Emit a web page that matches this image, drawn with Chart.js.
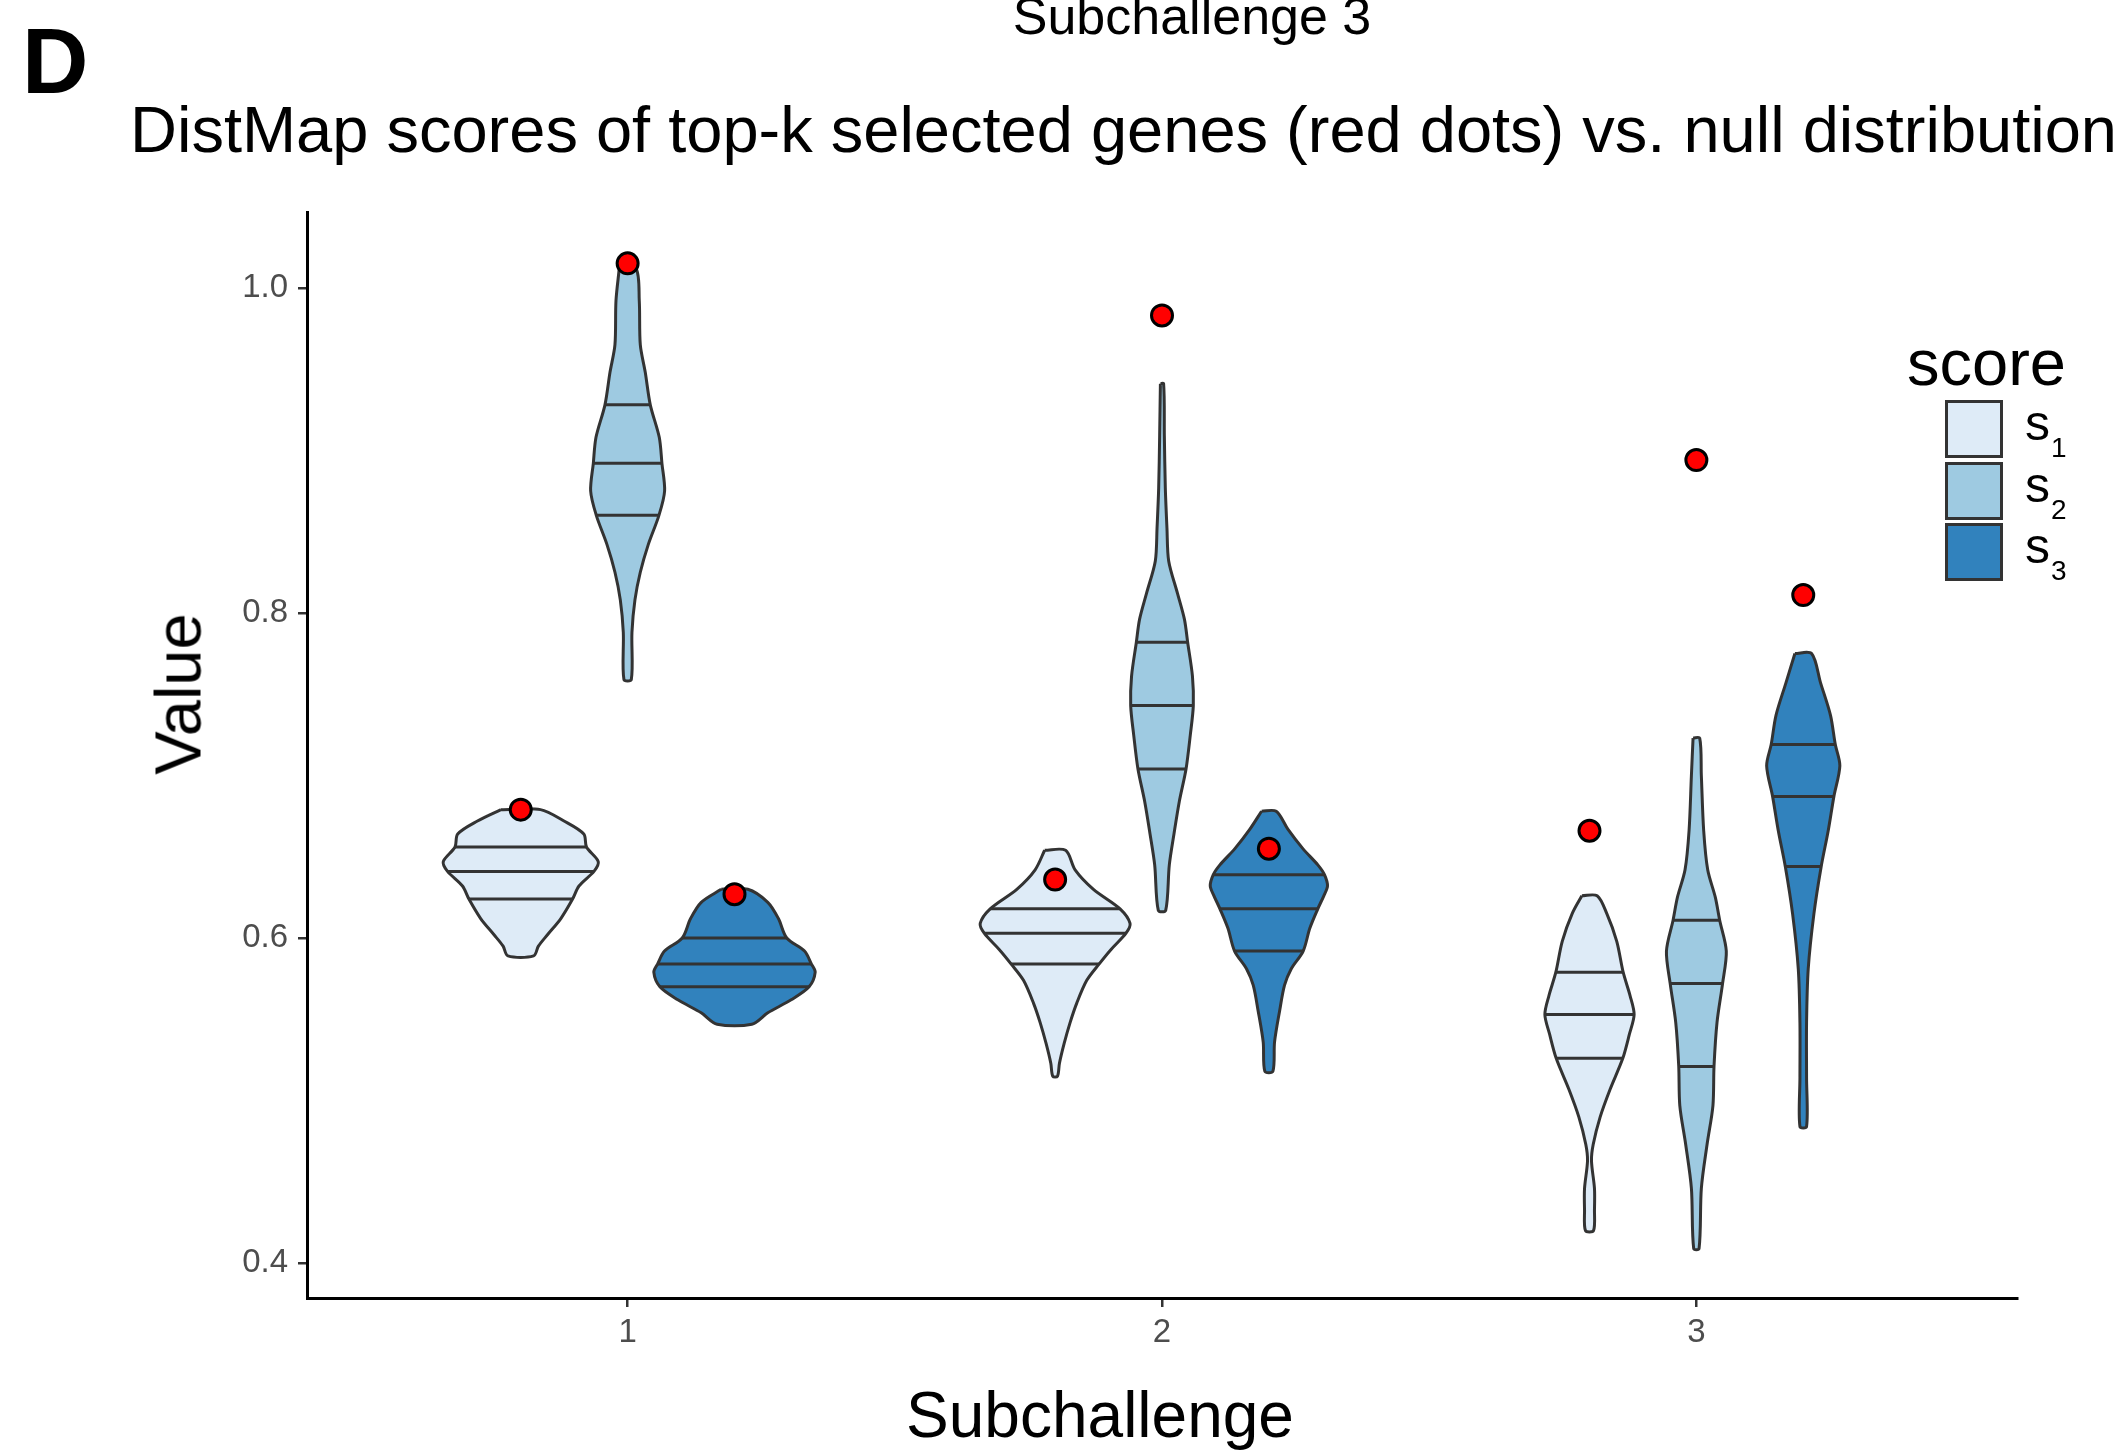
<!DOCTYPE html>
<html>
<head>
<meta charset="utf-8">
<title>DistMap scores vs. null distribution</title>
<script src="https://cdn.jsdelivr.net/npm/chart.js@4.4.1/dist/chart.umd.min.js"></script>
<style>
  body { margin: 0; background: #fff; }
  #wrap { position: relative; width: 2114px; height: 1454px; overflow: hidden;
          font-family: "Liberation Sans", Arial, Helvetica, sans-serif; color: #000; }
  #wrap canvas { position: absolute; left: 0; top: 0; }
  .txt { position: absolute; white-space: nowrap; line-height: 1; }
  .key { position: absolute; box-sizing: border-box; width: 58px; height: 58px; border: 3px solid #333; }
  .keylab { position: absolute; white-space: nowrap; line-height: 1; font-size: 50px; }
  .keylab sub { font-size: 28px; position: relative; top: 17px; vertical-align: baseline; margin-left: 1px; }
</style>
</head>
<body>
<div id="wrap">
  <canvas id="chart" width="2114" height="1454"></canvas>
  <div class="txt" style="left:22px; top:15px; font-size:92px; font-weight:bold;">D</div>
  <div class="txt" style="left:1192px; top:-10px; font-size:52px; transform:translateX(-50%);">Subchallenge 3</div>
  <div class="txt" style="left:130px; top:97px; font-size:65px;">DistMap scores of top-k selected genes (red dots) vs. null distribution</div>
  <div class="txt" style="left:178px; top:694px; font-size:65px; transform:translate(-50%,-50%) rotate(-90deg);">Value</div>
  <div class="txt" style="left:1100px; top:1383px; font-size:64px; transform:translateX(-50%);">Subchallenge</div>
  <div id="legend"></div>
</div>
<script>
const subchallenges = ["1", "2", "3"];
const scoreNames = ["1", "2", "3"]; // s1, s2, s3
const scoreColors = ["#DEEBF7", "#9ECAE1", "#3182BD"];
const yTicks = [0.4, 0.6, 0.8, 1.0];

// null distributions: values from top to bottom and half width of the density there
const g1s1Value = [0.679, 0.672, 0.664, 0.656, 0.647, 0.641, 0.632, 0.624, 0.612, 0.602, 0.595, 0.589];
const g1s1Width = [0.037, 0.081, 0.118, 0.123, 0.145, 0.137, 0.109, 0.097, 0.075, 0.050, 0.033, 0.024];
const g1s1Quant = [0.656, 0.641, 0.624];

const g1s2Value = [1.012, 0.992, 0.965, 0.948, 0.928, 0.908, 0.892, 0.875, 0.860, 0.842, 0.825, 0.808, 0.788, 0.759];
const g1s2Width = [0.0156, 0.0218, 0.0237, 0.033, 0.0424, 0.0592, 0.0642, 0.0692, 0.0586, 0.0386, 0.0237, 0.0137, 0.0081, 0.0069];
const g1s2Quant = [0.928, 0.892, 0.860];

const g1s3Value = [0.630, 0.622, 0.612, 0.600, 0.592, 0.584, 0.579, 0.570, 0.562, 0.554, 0.547];
const g1s3Width = [0.0249, 0.0623, 0.0822, 0.0978, 0.131, 0.144, 0.151, 0.1396, 0.106, 0.0623, 0.0324];
const g1s3Quant = [0.600, 0.584, 0.570];

const g2s1Value = [0.654, 0.642, 0.630, 0.618, 0.609, 0.603, 0.593, 0.584, 0.574, 0.560, 0.548, 0.535, 0.523, 0.515];
const g2s1Width = [0.0196, 0.0374, 0.0717, 0.1215, 0.1402, 0.1327, 0.1047, 0.0822, 0.0592, 0.0405, 0.028, 0.0168, 0.0081, 0.0044];
const g2s1Quant = [0.618, 0.603, 0.584];

const g2s2Value = [0.941, 0.909, 0.877, 0.852, 0.832, 0.812, 0.796, 0.782, 0.761, 0.743, 0.725, 0.704, 0.684, 0.664, 0.645, 0.617];
const g2s2Width = [0.003, 0.0044, 0.0062, 0.0093, 0.0125, 0.029, 0.042, 0.048, 0.057, 0.0586, 0.053, 0.045, 0.0324, 0.0224, 0.0137, 0.0069];
const g2s2Quant = [0.782, 0.743, 0.704];

const g2s3Value = [0.678, 0.667, 0.655, 0.645, 0.639, 0.632, 0.626, 0.618, 0.606, 0.592, 0.581, 0.571, 0.555, 0.536, 0.518];
const g2s3Width = [0.0137, 0.0355, 0.0636, 0.0916, 0.104, 0.1097, 0.1028, 0.0916, 0.0766, 0.0642, 0.0417, 0.0293, 0.02, 0.0106, 0.0075];
const g2s3Quant = [0.639, 0.618, 0.592];

const g3s1Value = [0.626, 0.615, 0.598, 0.579, 0.5645, 0.553, 0.541, 0.526, 0.507, 0.490, 0.473, 0.463, 0.446, 0.433, 0.420];
const g3s1Width = [0.0143, 0.0324, 0.051, 0.063, 0.076, 0.0835, 0.0748, 0.0623, 0.0386, 0.02, 0.0069, 0.0037, 0.0093, 0.0093, 0.0075];
const g3s1Quant = [0.579, 0.553, 0.526];

const g3s2Value = [0.723, 0.700, 0.666, 0.642, 0.625, 0.611, 0.592, 0.572, 0.548, 0.521, 0.497, 0.473, 0.446, 0.409];
const g3s2Width = [0.0062, 0.0093, 0.0137, 0.0212, 0.0355, 0.0436, 0.056, 0.049, 0.0386, 0.033, 0.031, 0.02, 0.0093, 0.005];
const g3s2Quant = [0.611, 0.572, 0.521];

const g3s3Value = [0.775, 0.757, 0.737, 0.719, 0.706, 0.687, 0.666, 0.644, 0.615, 0.581, 0.548, 0.514, 0.484];
const g3s3Width = [0.0156, 0.0324, 0.051, 0.06, 0.0685, 0.0573, 0.0467, 0.0336, 0.02, 0.0093, 0.0062, 0.0062, 0.0062];
const g3s3Quant = [0.719, 0.687, 0.644];

// scores of the top-k selected genes (red dots), per subchallenge
const topkS1 = [0.679, 0.636, 0.666];
const topkS2 = [1.015, 0.983, 0.894];
const topkS3 = [0.627, 0.655, 0.811];

const violins = [
  [g1s1Value, g1s1Width, g1s1Quant], [g1s2Value, g1s2Width, g1s2Quant], [g1s3Value, g1s3Width, g1s3Quant],
  [g2s1Value, g2s1Width, g2s1Quant], [g2s2Value, g2s2Width, g2s2Quant], [g2s3Value, g2s3Width, g2s3Quant],
  [g3s1Value, g3s1Width, g3s1Quant], [g3s2Value, g3s2Width, g3s2Quant], [g3s3Value, g3s3Width, g3s3Quant]
];
const topk = [topkS1, topkS2, topkS3];
const dodge = [-0.2, 0, 0.2];
const fontFamily = "'Liberation Sans', Arial, Helvetica, sans-serif";

function widthAt(values, widths, v) {
  for (let i = 0; i < values.length - 1; i++) {
    if (v <= values[i] && v >= values[i + 1]) {
      const t = (values[i] - v) / (values[i] - values[i + 1]);
      return widths[i] + t * (widths[i + 1] - widths[i]);
    }
  }
  return 0;
}

const datasets = [];

// red dots on top
const dots = [];
subchallenges.forEach((g, gi) => {
  scoreNames.forEach((s, si) => {
    dots.push({ x: gi + 1 + dodge[si], y: topk[si][gi] });
  });
});
datasets.push({
  data: dots,
  pointRadius: 10.5,
  pointBackgroundColor: "#FF0000",
  pointBorderColor: "#000000",
  pointBorderWidth: 3,
  order: 0
});

violins.forEach((v, k) => {
  const gi = Math.floor(k / 3);
  const si = k % 3;
  const cx = gi + 1 + dodge[si];
  const vals = v[0], wids = v[1], quants = v[2];
  const left = vals.map((y, i) => ({ x: cx - wids[i], y: y }));
  const right = vals.map((y, i) => ({ x: cx + wids[i], y: y })).reverse();
  const outline = left.concat(right, [left[0]]);

  // filled body
  datasets.push({
    data: outline,
    showLine: true,
    fill: "shape",
    backgroundColor: scoreColors[si],
    borderWidth: 0,
    pointRadius: 0,
    tension: 0.3,
    order: 3
  });
  // quantile lines (25%, 50%, 75%)
  quants.forEach(q => {
    const w = widthAt(vals, wids, q);
    datasets.push({
      data: [{ x: cx - w, y: q }, { x: cx + w, y: q }],
      showLine: true,
      borderColor: "#333333",
      borderWidth: 3,
      pointRadius: 0,
      tension: 0,
      order: 2
    });
  });
  // outline
  datasets.push({
    data: outline,
    showLine: true,
    fill: false,
    borderColor: "#333333",
    borderWidth: 3,
    pointRadius: 0,
    tension: 0.3,
    order: 1
  });
});

new Chart(document.getElementById("chart"), {
  type: "scatter",
  data: { datasets: datasets },
  options: {
    responsive: false,
    animation: false,
    devicePixelRatio: 1,
    events: [],
    layout: { padding: { left: 0, top: 212, right: 97, bottom: 0 } },
    plugins: {
      legend: { display: false },
      tooltip: { enabled: false }
    },
    scales: {
      x: {
        type: "linear",
        min: 0.4,
        max: 3.6,
        afterBuildTicks: (scale) => { scale.ticks = subchallenges.map((c, i) => ({ value: i + 1 })); },
        afterFit: (scale) => { scale.height = 156; },
        ticks: {
          callback: (value) => subchallenges[value - 1],
          font: { size: 33, family: fontFamily },
          color: "#4D4D4D",
          padding: 6
        },
        grid: { drawOnChartArea: false, drawTicks: true, tickLength: 9, color: "#333333", lineWidth: 2.5 },
        border: { display: true, color: "#000000", width: 3 }
      },
      y: {
        type: "linear",
        min: 0.3786,
        max: 1.0466,
        afterBuildTicks: (scale) => { scale.ticks = yTicks.map(v => ({ value: v })); },
        afterFit: (scale) => { scale.width = 307; },
        ticks: {
          callback: (value) => value.toFixed(1),
          font: { size: 33, family: fontFamily },
          color: "#4D4D4D",
          padding: 10
        },
        grid: { drawOnChartArea: false, drawTicks: true, tickLength: 9, color: "#333333", lineWidth: 2.5 },
        border: { display: true, color: "#000000", width: 3 }
      }
    }
  }
});

// legend "score"
const legend = document.getElementById("legend");
let html = '<div class="txt" style="left:1907px; top:330px; font-size:65px;">score</div>';
scoreNames.forEach((s, i) => {
  const top = 400 + i * 61.5;
  html += '<div class="key" style="left:1945px; top:' + top + 'px; background:' + scoreColors[i] + ';"></div>';
  html += '<div class="keylab" style="left:2025px; top:' + (top + 40 - 42) + 'px;">s<sub>' + s + '</sub></div>';
});
legend.innerHTML = html;
</script>
</body>
</html>
